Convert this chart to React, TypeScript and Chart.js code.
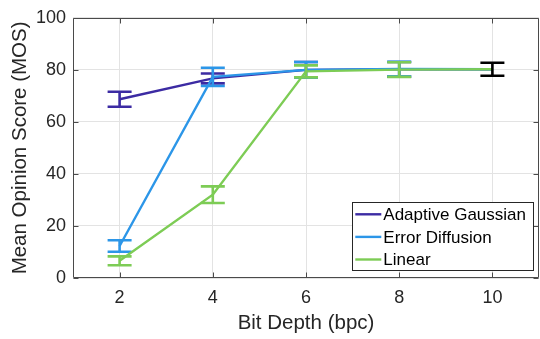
import React, { useEffect, useRef } from 'react';
import { Chart, registerables } from 'chart.js';

Chart.register(...registerables);

const bitDepths = [2, 4, 6, 8, 10];
const adaptiveGaussian = [68.7, 76.7, 80.0, 80.2, 80.2];
const adaptiveGaussianErr = [2.9, 1.9, 3.0, 2.8, null];
const errorDiffusion = [12.3, 77.3, 80.0, 80.3, 80.2];
const errorDiffusionErr = [2.2, 3.5, 3.0, 2.8, null];
const linear = [6.6, 32.0, 79.4, 80.1, 80.2];
const linearErr = [1.7, 3.2, 2.3, 2.8, null];
const referenceX = [10];
const reference = [80.2];
const referenceErr = [2.5];
const seriesNames = ['Adaptive Gaussian', 'Error Diffusion', 'Linear'];
const seriesColors = ['#3c2ba3', '#2c96e8', '#7dcc55'];
const xTicks = [2, 4, 6, 8, 10];
const yTicks = [0, 20, 40, 60, 80, 100];

const FONT = "'Liberation Sans', Arial, Helvetica, sans-serif";
const TEXT = '#262626';

const errPlugin = {
  id: 'errbars',
  afterDatasetDraw(chart: any, args: any) {
    const ds = chart.data.datasets[args.index];
    if (!ds.err) return;
    const ctx = chart.ctx;
    const xs = chart.scales.x;
    const ys = chart.scales.y;
    ctx.save();
    ctx.strokeStyle = ds.barColor || ds.borderColor;
    ctx.lineWidth = 2.6;
    ds.data.forEach((p: any, i: number) => {
      const e = ds.err[i];
      if (e == null) return;
      const px = xs.getPixelForValue(p.x);
      const top = ys.getPixelForValue(p.y + e);
      const bot = ys.getPixelForValue(p.y - e);
      ctx.beginPath();
      ctx.moveTo(px, top);
      ctx.lineTo(px, bot);
      ctx.moveTo(px - 12, top);
      ctx.lineTo(px + 12, top);
      ctx.moveTo(px - 12, bot);
      ctx.lineTo(px + 12, bot);
      ctx.stroke();
    });
    ctx.restore();
  },
};

const boxPlugin = {
  id: 'box',
  beforeDatasetsDraw(chart: any) {
    const { ctx, chartArea: a } = chart;
    const xs = chart.scales.x;
    const ys = chart.scales.y;
    const l = Math.round(a.left) + 0.5;
    const r = Math.round(a.right) - 0.5;
    const t = Math.round(a.top) + 0.5;
    const b = Math.round(a.bottom) - 0.5;
    ctx.save();
    ctx.strokeStyle = '#4a4a4a';
    ctx.lineWidth = 1;
    ctx.beginPath();
    ctx.rect(l, t, r - l, b - t);
    xTicks.forEach((v) => {
      const px = Math.round(xs.getPixelForValue(v)) + 0.5;
      ctx.moveTo(px, b);
      ctx.lineTo(px, b - 5);
      ctx.moveTo(px, t);
      ctx.lineTo(px, t + 5);
    });
    yTicks.forEach((v) => {
      const py = Math.round(ys.getPixelForValue(v)) + 0.5;
      ctx.moveTo(l, py);
      ctx.lineTo(l + 5, py);
      ctx.moveTo(r, py);
      ctx.lineTo(r - 5, py);
    });
    ctx.stroke();
    ctx.restore();
  },
};

const legendPlugin = {
  id: 'customLegend',
  afterDraw(chart: any) {
    const { ctx, chartArea: a } = chart;
    ctx.save();
    ctx.font = `17px ${FONT}`;
    const maxW = Math.max(...seriesNames.map((n) => ctx.measureText(n).width));
    const w = 31 + maxW + 7;
    const h = 68;
    const right = Math.round(a.right) - 6;
    const bottom = Math.round(a.bottom) - 8;
    const left = right - w;
    const top = bottom - h;
    ctx.fillStyle = '#ffffff';
    ctx.fillRect(left, top, w, h);
    ctx.strokeStyle = '#262626';
    ctx.lineWidth = 1;
    ctx.strokeRect(Math.round(left) + 0.5, top + 0.5, Math.round(w), h);
    ctx.textBaseline = 'middle';
    ctx.textAlign = 'left';
    seriesNames.forEach((name, i) => {
      const cy = top + 12.3 + i * 22.6;
      ctx.strokeStyle = seriesColors[i];
      ctx.lineWidth = 2.4;
      ctx.beginPath();
      ctx.moveTo(left + 3, cy);
      ctx.lineTo(left + 29, cy);
      ctx.stroke();
      ctx.fillStyle = '#000000';
      ctx.fillText(name, left + 31, cy + 1);
    });
    ctx.restore();
  },
};

function toPoints(values: number[]) {
  return values.map((v, i) => ({ x: bitDepths[i], y: v }));
}

export default function App() {
  const ref = useRef<HTMLCanvasElement>(null);

  useEffect(() => {
    document.body.style.margin = '0';
    if (!ref.current) return;
    const chart = new Chart(ref.current, {
      type: 'line',
      data: {
        datasets: [
          {
            label: seriesNames[0],
            data: toPoints(adaptiveGaussian),
            err: adaptiveGaussianErr,
            borderColor: seriesColors[0],
            borderWidth: 2.4,
            pointRadius: 0,
            fill: false,
            order: 3,
          } as any,
          {
            label: seriesNames[1],
            data: toPoints(errorDiffusion),
            err: errorDiffusionErr,
            borderColor: seriesColors[1],
            borderWidth: 2.4,
            pointRadius: 0,
            fill: false,
            order: 2,
          } as any,
          {
            label: seriesNames[2],
            data: toPoints(linear),
            err: linearErr,
            borderColor: seriesColors[2],
            borderWidth: 2.4,
            pointRadius: 0,
            fill: false,
            order: 1,
          } as any,
          {
            label: 'Reference',
            data: reference.map((v, i) => ({ x: referenceX[i], y: v })),
            err: referenceErr,
            borderColor: '#000000',
            showLine: false,
            pointRadius: 0,
            order: 0,
          } as any,
        ],
      },
      options: {
        animation: false,
        responsive: false,
        devicePixelRatio: 1,
        layout: { padding: { top: 11, right: 1, left: 0, bottom: 0 } },
        plugins: {
          legend: { display: false },
          tooltip: { enabled: false },
        },
        scales: {
          x: {
            type: 'linear',
            min: 1,
            max: 11,
            afterBuildTicks: (s: any) => {
              s.ticks = xTicks.map((v) => ({ value: v }));
            },
            afterFit: (s: any) => {
              s.height = 61;
            },
            grid: { color: '#e3e3e3', lineWidth: 1, drawTicks: false },
            border: { display: false },
            ticks: {
              padding: 9,
              color: TEXT,
              font: { family: FONT, size: 18 },
              maxRotation: 0,
            },
            title: {
              display: true,
              text: 'Bit Depth (bpc)',
              color: TEXT,
              font: { family: FONT, size: 20.5 },
              padding: { top: 0, bottom: 3 },
            },
          },
          y: {
            type: 'linear',
            min: 0,
            max: 100,
            afterBuildTicks: (s: any) => {
              s.ticks = yTicks.map((v) => ({ value: v }));
            },
            afterFit: (s: any) => {
              s.width = 73;
            },
            grid: { color: '#e3e3e3', lineWidth: 1, drawTicks: false },
            border: { display: false },
            ticks: {
              padding: 7,
              color: TEXT,
              font: { family: FONT, size: 18 },
            },
            title: {
              display: true,
              text: 'Mean Opinion Score (MOS)',
              color: TEXT,
              font: { family: FONT, size: 20.5 },
              padding: { top: 8, bottom: 0 },
            },
          },
        },
      },
      plugins: [boxPlugin, errPlugin, legendPlugin],
    } as any);
    return () => chart.destroy();
  }, []);

  return (
    <div style={{ width: 540, height: 339, position: 'fixed', left: 0, top: 0, background: '#fff' }}>
      <canvas ref={ref} width={540} height={339} />
    </div>
  );
}
